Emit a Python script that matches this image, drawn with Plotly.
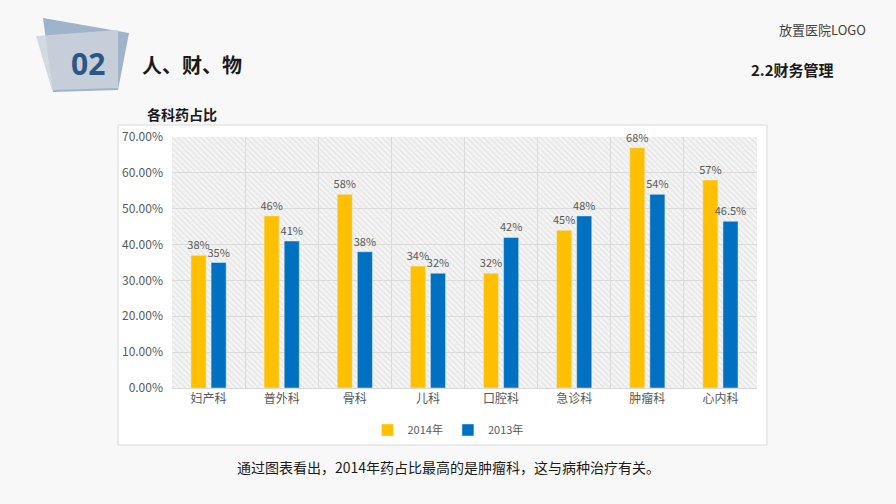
import plotly.graph_objects as go

categories = ["妇产科", "普外科", "骨科", "儿科", "口腔科", "急诊科", "肿瘤科", "心内科"]
v2014 = [37, 48, 54, 34, 32, 44, 67, 58]
v2013 = [35, 41, 38, 32, 42, 48, 54, 46.5]
labels2014 = ["38%", "46%", "58%", "34%", "32%", "45%", "68%", "57%"]
labels2013 = ["35%", "41%", "38%", "32%", "42%", "48%", "54%", "46.5%"]
ytick_vals = [0, 10, 20, 30, 40, 50, 60, 70]
ytick_text = ["0.00%", "10.00%", "20.00%", "30.00%", "40.00%", "50.00%", "60.00%", "70.00%"]

W, H = 896, 504
L, R, T, B = 172, 757, 137, 388
FONT = "Noto Sans CJK SC"


def px(x):
    return (x - L) / (R - L)


def py(y):
    return (B - y) / (B - T)


fig = go.Figure()

# hatch background (drawn on hidden base axes, below the data)
fig.add_trace(go.Bar(
    x=[0.5], y=[70], width=[1], xaxis="x", yaxis="y",
    marker=dict(color="rgba(0,0,0,0)", line=dict(width=0),
                pattern=dict(shape="\\", fgcolor="#e0e0e0", bgcolor="rgba(0,0,0,0)",
                             size=4, solidity=0.25, fillmode="replace")),
    hoverinfo="skip", showlegend=False,
))

fig.add_trace(go.Bar(
    name="2014年", x=categories, y=v2014, text=labels2014, xaxis="x2", yaxis="y2",
    marker_color="#FFC000", textposition="outside", cliponaxis=False,
    textfont=dict(color="#595959", size=11), constraintext="none",
))
fig.add_trace(go.Bar(
    name="2013年", x=categories, y=v2013, text=labels2013, xaxis="x2", yaxis="y2",
    marker_color="#0070C0", textposition="outside", cliponaxis=False,
    textfont=dict(color="#595959", size=11), constraintext="none",
))

shapes = [
    dict(type="rect", xref="paper", yref="paper", x0=px(118), x1=px(767), y0=py(445), y1=py(125),
         fillcolor="white", line=dict(color="#d9d9d9", width=1), layer="below"),
    dict(type="rect", xref="paper", yref="paper", x0=0, x1=1, y0=0, y1=1,
         fillcolor="#f4f4f4", line=dict(width=0), layer="below"),
]


def poly(pts, fill):
    d = "M " + " L ".join(f"{px(x):.5f},{py(y):.5f}" for x, y in pts) + " Z"
    return dict(type="path", xref="paper", yref="paper", path=d, fillcolor=fill,
                line=dict(width=0), layer="below")


shapes.append(poly([(43, 18), (129, 33), (118, 90), (53, 92)], "#9fb3cb"))
shapes.append(poly([(36, 36), (118, 30), (118, 88), (52, 90)], "rgba(205,212,220,0.85)"))

annotations = [
    dict(text="<b>02</b>", x=px(88), y=py(63), xref="paper", yref="paper", showarrow=False,
         font=dict(family="Open Sans", size=30, color="#2b5687"), xanchor="center", yanchor="middle"),
    dict(text="<b>人、财、物</b>", x=px(140), y=py(64), xref="paper", yref="paper", showarrow=False,
         font=dict(family=FONT, size=20, color="#1a1a1a"), xanchor="left", yanchor="middle"),
    dict(text="放置医院LOGO", x=px(868), y=py(30), xref="paper", yref="paper", showarrow=False,
         font=dict(family=FONT, size=13, color="#404040"), xanchor="right", yanchor="middle"),
    dict(text="<b>2.2财务管理</b>", x=px(836), y=py(69), xref="paper", yref="paper", showarrow=False,
         font=dict(family=FONT, size=15, color="#1a1a1a"), xanchor="right", yanchor="middle"),
    dict(text="<b>各科药占比</b>", x=px(145), y=py(114), xref="paper", yref="paper", showarrow=False,
         font=dict(family=FONT, size=14, color="#1a1a1a"), xanchor="left", yanchor="middle"),
    dict(text="通过图表看出，2014年药占比最高的是肿瘤科，这与病种治疗有关。", x=px(448), y=py(467),
         xref="paper", yref="paper", showarrow=False,
         font=dict(family=FONT, size=14, color="#1a1a1a"), xanchor="center", yanchor="middle"),
]

fig.update_layout(
    width=W, height=H,
    margin=dict(l=L, r=W - R, t=T, b=H - B, pad=0),
    paper_bgcolor="#f8f8f8",
    plot_bgcolor="rgba(0,0,0,0)",
    font=dict(family=FONT, color="#595959", size=12),
    barmode="group", bargap=0.45, bargroupgap=0.25,
    showlegend=True,
    legend=dict(orientation="h", x=px(448), y=py(430), xanchor="center", yanchor="middle",
                font=dict(size=11, color="#595959"), bgcolor="rgba(0,0,0,0)",
                itemwidth=30, traceorder="normal"),
    xaxis=dict(range=[0, 1], visible=False, fixedrange=True),
    yaxis=dict(range=[0, 70], visible=False, fixedrange=True),
    xaxis2=dict(overlaying="x", showgrid=True, gridcolor="#d9d9d9", tickson="boundaries", ticks="",
                showline=True, linecolor="#d9d9d9", tickfont=dict(size=12, color="#595959"),
                fixedrange=True, side="bottom"),
    yaxis2=dict(overlaying="y", side="left", range=[0, 70], tickvals=ytick_vals, ticktext=ytick_text,
                showgrid=True, gridcolor="#d9d9d9", zeroline=False, showline=False, ticks="",
                tickfont=dict(size=12, color="#595959"), ticklabelstandoff=8, fixedrange=True),
    shapes=shapes,
    annotations=annotations,
)

fig.write_html("out.html", config={"displayModeBar": False},
               post_script="document.body.style.margin='0';document.body.style.background='#f8f8f8';")
